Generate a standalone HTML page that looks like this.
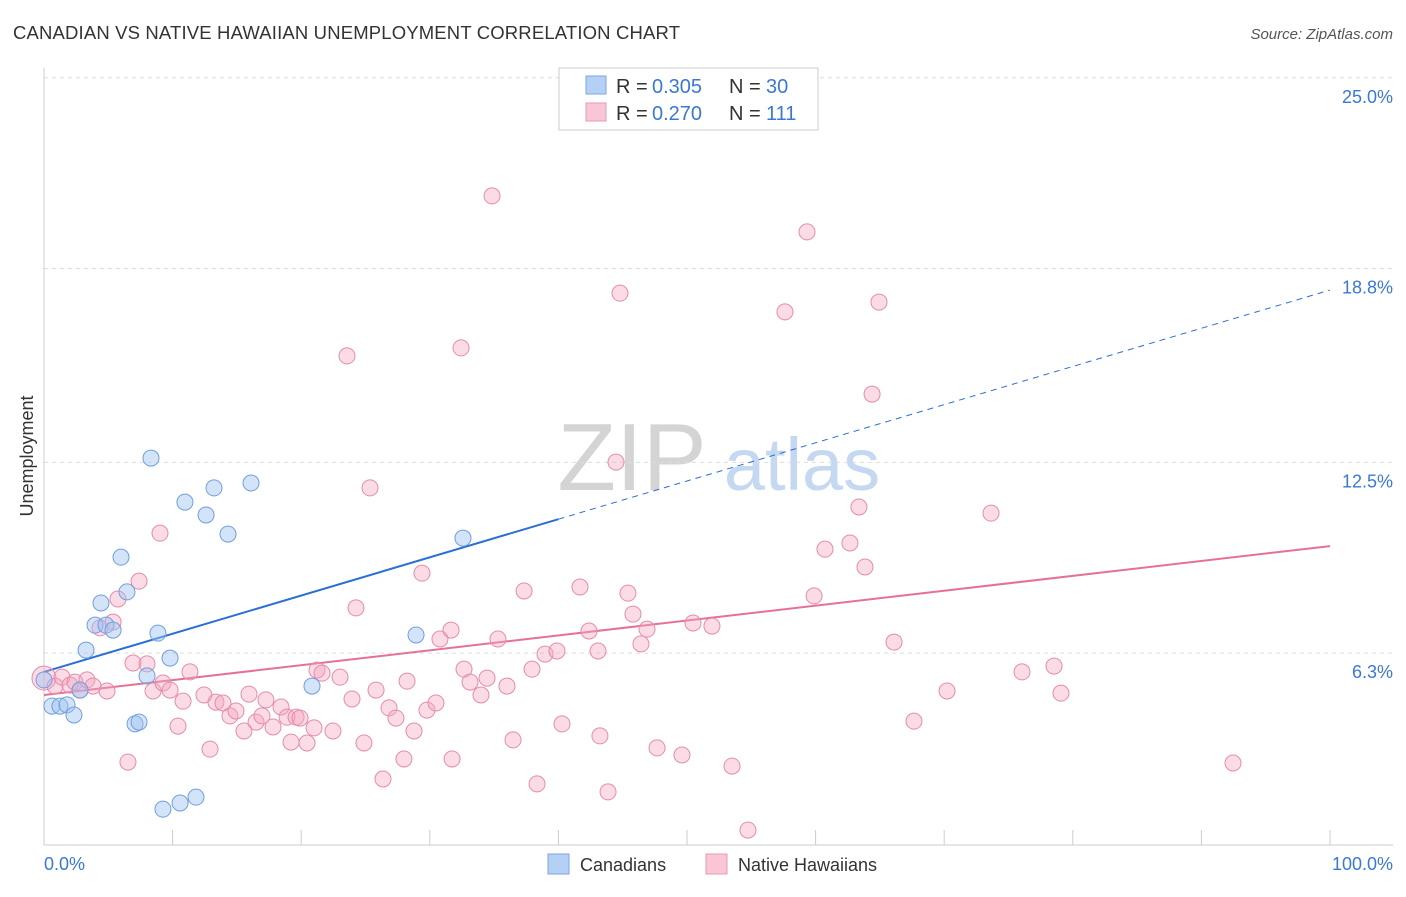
<!DOCTYPE html>
<html><head><meta charset="utf-8"><style>
body{margin:0;background:#fff;font-family:"Liberation Sans",sans-serif;}
svg text{font-family:"Liberation Sans",sans-serif;}
</style></head><body>
<svg id="chart" width="1406" height="892" xmlns="http://www.w3.org/2000/svg">
<text x="13" y="39" font-size="18.5" fill="#333" textLength="667">CANADIAN VS NATIVE HAWAIIAN UNEMPLOYMENT CORRELATION CHART</text>
<text x="1393" y="39" font-size="15" fill="#555" text-anchor="end" font-style="italic">Source: ZipAtlas.com</text>
<text transform="translate(33,456) rotate(-90)" font-size="18" fill="#333" text-anchor="middle">Unemployment</text>
<g>
<text x="632" y="490" font-size="96" fill="#d4d4d4" text-anchor="middle" font-family="Liberation Serif, serif">ZIP</text>
<text x="802" y="490" font-size="74" fill="#c4d8f2" text-anchor="middle">atlas</text>
</g>
<g id="grid"></g><g id="axes"></g><g id="lines"></g><g id="points"></g>
<g>
<rect x="559" y="68" width="259" height="62" fill="#fff" stroke="#ccc"/>
<rect x="586" y="76" width="20" height="18" fill="#b5d0f5" stroke="#7aa6e0"/>
<text x="616" y="93" font-size="20" fill="#333">R =</text>
<text x="652" y="93" font-size="20" fill="#3a78d8">0.305</text>
<text x="729" y="93" font-size="20" fill="#333">N =</text>
<text x="766" y="93" font-size="20" fill="#3a78d8">30</text>
<rect x="586" y="103" width="20" height="18" fill="#f9c6d5" stroke="#e898b0"/>
<text x="616" y="120" font-size="20" fill="#333">R =</text>
<text x="652" y="120" font-size="20" fill="#3a78d8">0.270</text>
<text x="729" y="120" font-size="20" fill="#333">N =</text>
<text x="766" y="120" font-size="20" fill="#3a78d8">111</text>
</g>
<g>
<rect x="548" y="854" width="21" height="20" fill="#b5d0f5" stroke="#7aa6e0"/>
<text x="580" y="871" font-size="18" fill="#333">Canadians</text>
<rect x="706" y="854" width="21" height="20" fill="#f9c6d5" stroke="#e898b0"/>
<text x="738" y="871" font-size="18" fill="#333">Native Hawaiians</text>
</g>
</svg>
<script>
const yTicks=[25.0,18.8,12.5,6.3];
const yTickLabels=["25.0%","18.8%","12.5%","6.3%"];
const xTickLabels=["0.0%","100.0%"];
const blueX=[0,0.62,1.24,1.79,2.33,2.8,3.27,3.97,4.43,4.82,5.37,5.99,6.45,7.08,7.39,8.01,8.32,8.86,9.25,9.8,10.58,10.96,11.82,12.6,13.22,14.31,16.1,20.84,28.93,32.58];
const blueY=[5.43,4.58,4.58,4.62,4.29,5.1,6.4,7.21,7.93,7.21,7.05,9.42,8.29,4.0,4.06,5.56,12.64,6.95,1.23,6.14,1.43,11.21,1.62,10.79,11.67,10.17,11.83,5.23,6.89,10.04];
const pinkX=[0,0.86,1.4,2.02,2.41,2.8,3.34,3.81,4.35,4.9,5.37,5.75,6.53,6.92,7.39,8.01,8.48,9.02,9.25,9.8,10.42,10.81,11.35,12.44,12.91,13.37,13.92,14.46,14.93,15.55,15.94,16.49,16.95,17.26,17.81,18.43,18.9,19.21,19.6,19.91,20.45,21.0,21.23,21.62,22.47,23.02,23.56,23.95,24.26,24.88,25.35,25.82,26.36,26.83,27.37,27.99,28.23,28.77,29.39,29.78,30.48,30.79,31.65,31.73,32.43,32.66,33.13,33.98,34.45,34.84,35.3,36.0,36.47,37.33,37.95,38.34,38.96,39.89,40.28,41.68,42.38,43.08,43.23,43.86,44.48,44.79,45.41,45.8,46.42,46.89,47.67,49.61,50.47,51.94,53.5,54.74,57.62,59.33,59.88,60.73,62.67,63.37,63.84,64.39,64.93,66.1,67.65,70.22,73.64,76.05,78.54,79.08,92.46];
const pinkY=[5.49,5.23,5.52,5.26,5.36,5.1,5.43,5.23,7.12,5.07,7.31,8.06,2.76,5.98,8.64,5.95,5.07,10.2,5.33,5.1,3.93,4.74,5.69,4.94,3.18,4.71,4.68,4.26,4.42,3.77,4.97,4.06,4.26,4.78,3.9,4.55,4.22,3.41,4.22,4.19,3.38,3.87,5.75,5.65,3.77,5.52,15.96,4.81,7.77,3.38,11.67,5.1,2.21,4.52,4.19,2.86,5.39,3.77,8.9,4.45,4.68,6.76,7.05,2.86,16.22,5.78,5.36,4.94,5.49,21.16,6.76,5.23,3.48,8.32,5.78,2.05,6.27,6.37,4.0,8.45,7.02,6.37,3.61,1.79,12.51,18.0,8.25,7.57,6.6,7.08,3.22,2.99,7.28,7.18,2.63,0.55,17.39,19.99,8.16,9.68,9.88,11.05,9.1,14.72,17.71,6.66,4.09,5.07,10.85,5.69,5.88,5.0,2.73];
const blueFit=[5.69,18.1];
const pinkFit=[4.94,9.78];
const NS="http://www.w3.org/2000/svg";
const X=v=>44+v*12.86, Y=v=>847-v*30.77;
function mk(tag,attrs,parent){const e=document.createElementNS(NS,tag);for(const k in attrs)e.setAttribute(k,attrs[k]);document.getElementById(parent).appendChild(e);return e;}
yTicks.forEach((t,i)=>{
 const g=mk('line',{x1:44,x2:1393,y1:Y(t),y2:Y(t),stroke:'#ddd','stroke-dasharray':'4,4'},'grid');
 
 
 const tx=mk('text',{x:1393,y:Y(t)+25,'font-size':18,fill:'#3a78d8','text-anchor':'end'},'grid');
 tx.textContent=yTickLabels[i];
 
 
});
const ax=mk('line',{x1:44,x2:1393,y1:845,y2:845,stroke:'#ccc'},'axes');


const ay=mk('line',{x1:44,x2:44,y1:68,y2:845,stroke:'#ccc'},'axes');


for(let i=0;i<=10;i++){const t=mk('line',{x1:X(i*10),x2:X(i*10),y1:830,y2:845,stroke:'#ccc'},'axes');
 
 }
[[0,'start',44],[100,'end',1393]].forEach((d,i)=>{const t=mk('text',{x:d[2],y:870,'font-size':18,fill:'#3a78d8','text-anchor':d[1]},'axes');t.textContent=xTickLabels[i];
 
 });
function fy(f,x){return f[0]+(f[1]-f[0])*x/100;}
let l=mk('line',{x1:X(0),y1:Y(fy(blueFit,0)),x2:X(40),y2:Y(fy(blueFit,40)),stroke:'#2a6fd6','stroke-width':2},'lines');


l=mk('line',{x1:X(40),y1:Y(fy(blueFit,40)),x2:X(100),y2:Y(fy(blueFit,100)),stroke:'#2a6fd6','stroke-width':1,'stroke-dasharray':'6,5'},'lines');


l=mk('line',{x1:X(0),y1:Y(fy(pinkFit,0)),x2:X(100),y2:Y(fy(pinkFit,100)),stroke:'#e5709a','stroke-width':2},'lines');


pinkX.forEach((x,i)=>{const c=mk('circle',{cx:X(x),cy:Y(pinkY[i]),r:i==0?12:8,fill:'rgba(244,165,192,0.4)',stroke:'#e68cab','stroke-width':1},'points');
 
 });
blueX.forEach((x,i)=>{const c=mk('circle',{cx:X(x),cy:Y(blueY[i]),r:8,fill:'rgba(160,195,240,0.45)',stroke:'#6f9fdf','stroke-width':1},'points');
 
 });
</script>
</body></html>
